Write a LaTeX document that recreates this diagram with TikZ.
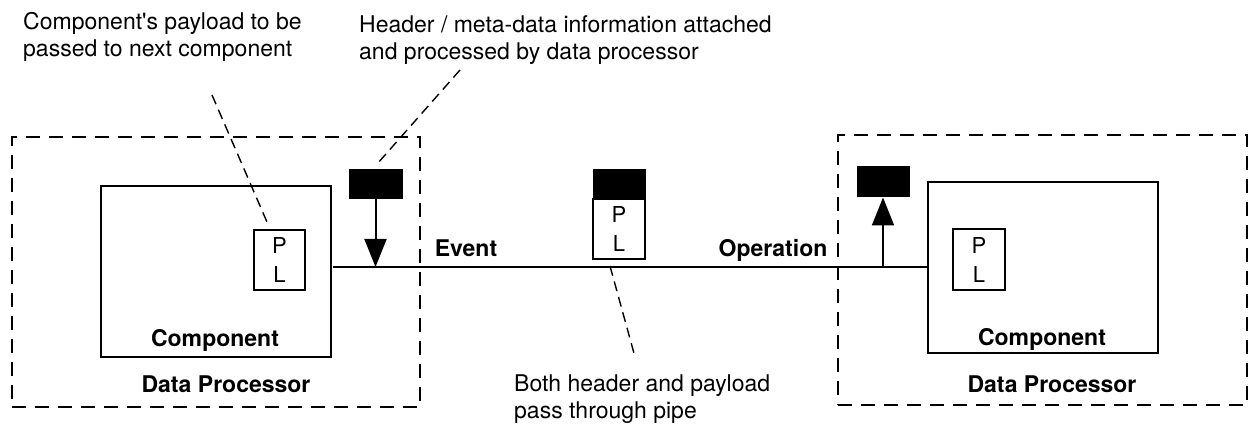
\documentclass[tikz,border=0pt]{standalone}
\usepackage{fontspec}
\setmainfont{TeX Gyre Heros}
\usetikzlibrary{arrows.meta}
\begin{document}
\begin{tikzpicture}[x=1pt,y=-1pt,
  every node/.style={inner sep=0pt, font=\fontsize{23}{27}\selectfont},
  dpbox/.style={draw, line width=2pt, dash pattern=on 14pt off 9pt},
  compbox/.style={draw, line width=1.5pt},
  plbox/.style={draw, line width=1.5pt, align=center, font=\fontsize{22}{29}\selectfont},
  hdr/.style={fill=black, draw=black, line width=1pt},
  lbl/.style={font=\fontsize{23}{27}\selectfont\bfseries, anchor=base},
  note/.style={align=left, anchor=base west},
  callout/.style={line width=1.4pt, dash pattern=on 10pt off 6pt},
  pipe/.style={line width=2pt},
  flow/.style={line width=2pt, -{Triangle[width=22pt,length=28pt]}}
]
\useasboundingbox (0,0) rectangle (1249,427);

% left data processor
\node[dpbox, minimum width=408pt, minimum height=270pt] (ldp) at (216,272) {};
\node[compbox, minimum width=230pt, minimum height=171pt] (lcomp) at (216,271.5) {};
\node[plbox, minimum width=51pt, minimum height=60pt] (lpl) at (279.5,260) {P\\L};
\node[lbl] (lcompt) at (215,346) {Component};
\node[lbl] (ldpt) at (226,392) {Data Processor};
\node[hdr, minimum width=53pt, minimum height=29pt] (lhdr) at (375.5,184.5) {};

% right data processor
\node[dpbox, minimum width=409pt, minimum height=270pt] (rdp) at (1042.5,270) {};
\node[compbox, minimum width=230pt, minimum height=171pt] (rcomp) at (1043,267.5) {};
\node[plbox, minimum width=52pt, minimum height=61pt] (rpl) at (979,259.5) {P\\L};
\node[lbl] (rcompt) at (1042,345) {Component};
\node[lbl] (rdpt) at (1052,392) {Data Processor};
\node[hdr, minimum width=52pt, minimum height=30pt] (rhdr) at (883,182) {};

% message in the pipe
\node[hdr, minimum width=52pt, minimum height=29pt] (mhdr) at (619,184.5) {};
\node[plbox, minimum width=52pt, minimum height=60pt] (mpl) at (619,229) {P\\L};

% pipe
\coordinate (pA) at (333,267);
\coordinate (pB) at (rcomp.west |- pA);
\draw[pipe] (pA) -- (pB);
\node[lbl] (event) at (466,257) {Event};
\node[lbl] (oper) at (773,257) {Operation};

% header flows
\draw[flow] (lhdr.south) -- (lhdr.south |- pA);
\draw[flow] (rhdr.south |- pA) -- (rhdr.south);

% notes (anchor at baseline of last line)
\node[note] (n1) at (23,57) {Component\textquotesingle s payload to be\\passed to next component};
\node[note] (n2) at (359,60) {Header / meta-data information attached\\and processed by data processor};
\node[note] (n3) at (514,418) {Both header and payload\\pass through pipe};

% callouts
\coordinate (c1a) at (212,95);
\coordinate (c1b) at (267,222);
\coordinate (c2a) at (460,70);
\coordinate (c2b) at (378,163);
\coordinate (c3a) at (610,266);
\coordinate (c3b) at (635,357);
\draw[callout] (c1a) -- (c1b);
\draw[callout] (c2a) -- (c2b);
\draw[callout] (c3a) -- (c3b);
\end{tikzpicture}
\end{document}
